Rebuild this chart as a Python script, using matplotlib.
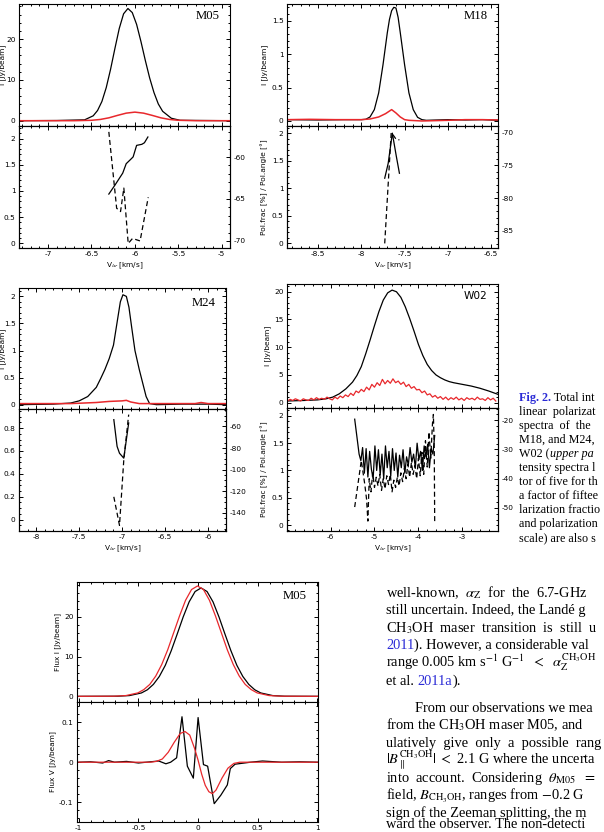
import matplotlib
matplotlib.use("Agg")
import matplotlib.pyplot as plt
from matplotlib.ticker import MultipleLocator, FuncFormatter

W, H = 604, 832

# ---- M05 (top left) ----
m05_v = [-7.33, -6.9, -6.7, -6.6, -6.58, -6.48, -6.43, -6.38, -6.33, -6.28, -6.23, -6.18, -6.13,
         -6.08, -6.03, -5.98, -5.93, -5.88, -5.83, -5.78, -5.73, -5.68, -5.58, -5.48, -4.9]
m05_I = [0.0, 0.05, 0.15, 0.2, 0.2, 1.2, 2.5, 4.7, 8.1, 12.6, 17.7, 22.6, 26.2,
         27.5, 26.5, 23.6, 19.4, 14.8, 10.5, 6.9, 4.1, 2.3, 0.6, 0.1, 0.0]
m05_pol_v = [-7.33, -6.7, -6.5, -6.4, -6.3, -6.2, -6.1, -6.0, -5.9, -5.8, -5.7, -5.6, -5.5, -5.3, -4.9]
m05_pol = [0.0, 0.0, 0.1, 0.3, 0.7, 1.3, 1.85, 2.1, 1.85, 1.3, 0.7, 0.3, 0.1, 0.0, 0.0]
m05_frac_v = [-6.30, -6.23, -6.14, -6.10, -6.05, -6.02, -5.98, -5.92, -5.89, -5.85]
m05_frac = [0.94, 1.11, 1.34, 1.52, 1.60, 1.65, 1.87, 1.89, 1.92, 2.03]
m05_ang_v = [-6.30, -6.21, -6.165, -6.127, -6.077, -6.027, -5.94, -5.846]
m05_ang = [-57.0, -66.1, -66.5, -63.7, -70.3, -69.7, -70.0, -64.8]

# ---- M18 (top right) ----
m18_v = [-8.86, -8.5, -8.2, -8.0, -7.95, -7.9, -7.85, -7.8, -7.75, -7.7, -7.675, -7.65, -7.625,
         -7.6, -7.575, -7.55, -7.5, -7.45, -7.4, -7.35, -7.3, -7.25, -7.0, -6.8, -6.6, -6.42]
m18_I = [0.02, 0.015, 0.02, 0.02, 0.025, 0.06, 0.17, 0.42, 0.84, 1.32, 1.52, 1.65, 1.70,
         1.69, 1.55, 1.32, 0.84, 0.42, 0.17, 0.055, 0.02, 0.01, 0.02, 0.015, 0.02, 0.01]
m18_pol_v = [-8.86, -8.6, -8.3, -8.0, -7.9, -7.8, -7.72, -7.65, -7.6, -7.55, -7.5, -7.45, -7.3, -7.0, -6.8, -6.6, -6.42]
m18_pol = [0.02, 0.025, 0.02, 0.02, 0.03, 0.06, 0.11, 0.17, 0.12, 0.06, 0.02, 0.01, 0.0, 0.01, 0.02, 0.02, 0.015]
m18_frac_v = [-7.73, -7.69, -7.642, -7.596, -7.56]
m18_frac = [1.18, 1.45, 2.0, 1.58, 1.27]
m18_ang_v = [-7.73, -7.655, -7.62, -7.595, -7.56]
m18_ang = [-86.9, -70.0, -70.6, -71.1, -71.1]

# ---- M24 (middle left) ----
m24_v = [-8.2, -7.8, -7.6, -7.5, -7.4, -7.3, -7.25, -7.2, -7.15, -7.1, -7.06, -7.02, -6.99, -6.95,
         -6.92, -6.89, -6.85, -6.8, -6.76, -6.72, -6.68, -6.6, -6.3, -6.0, -5.79]
m24_I = [0.0, 0.01, 0.03, 0.07, 0.15, 0.32, 0.48, 0.65, 0.85, 1.1, 1.5, 1.9, 2.03, 2.0,
         1.8, 1.45, 1.0, 0.65, 0.4, 0.15, 0.02, 0.0, 0.01, 0.01, 0.0]
m24_pol_v = [-8.2, -7.6, -7.3, -7.15, -7.0, -6.95, -6.9, -6.8, -6.5, -6.15, -6.08, -6.0, -5.79]
m24_pol = [0.02, 0.02, 0.04, 0.06, 0.07, 0.08, 0.05, 0.02, 0.02, 0.02, 0.04, 0.02, 0.02]
m24_frac_v = [-7.096, -7.058, -7.03, -6.98, -6.923]
m24_frac = [0.874, 0.64, 0.58, 0.537, 0.845]
m24_ang_v = [-7.096, -7.03, -6.98, -6.923]
m24_ang = [-125.1, -151.5, -91.0, -49.1]

# ---- W02 (middle right) ----
w02_v = [-6.99, -6.6, -6.3, -6.1, -5.95, -5.8, -5.65, -5.5, -5.4, -5.3, -5.2, -5.1, -5.0, -4.9,
         -4.8, -4.7, -4.6, -4.5, -4.4, -4.3, -4.2, -4.1, -4.0, -3.9, -3.8, -3.7, -3.6, -3.5,
         -3.4, -3.3, -3.2, -3.0, -2.8, -2.6, -2.4, -2.19]
w02_I = [0.3, 0.4, 0.5, 0.7, 1.0, 1.6, 2.5, 3.7, 4.9, 6.5, 8.8, 11.3, 13.9, 16.4,
         18.5, 19.8, 20.3, 20.0, 19.0, 17.3, 15.2, 12.9, 10.5, 8.5, 6.9, 5.8, 5.0, 4.5,
         4.1, 3.8, 3.6, 3.3, 3.0, 2.6, 2.1, 1.5]
w02_pol_v = [-6.98, -6.92, -6.86, -6.80, -6.74, -6.68, -6.62, -6.56, -6.50, -6.44,
             -6.38, -6.32, -6.26, -6.20, -6.14, -6.08, -6.02, -5.96, -5.90, -5.84,
             -5.78, -5.72, -5.66, -5.60, -5.54, -5.48, -5.42, -5.36, -5.30, -5.24,
             -5.18, -5.12, -5.06, -5.00, -4.94, -4.88, -4.82, -4.76, -4.70, -4.64,
             -4.58, -4.52, -4.46, -4.40, -4.34, -4.28, -4.22, -4.16, -4.10, -4.04,
             -3.98, -3.92, -3.86, -3.80, -3.74, -3.68, -3.62, -3.56, -3.50, -3.44,
             -3.38, -3.32, -3.26, -3.20, -3.14, -3.08, -3.02, -2.96, -2.90, -2.84,
             -2.78, -2.72, -2.66, -2.60, -2.54, -2.48, -2.42, -2.36, -2.30, -2.24]
w02_pol = [0.3, 0.6, 0.4, 0.7, 0.5, 0.3, 0.7, 0.5, 0.4, 0.8,
           0.5, 0.9, 0.6, 0.8, 0.6, 1.0, 0.7, 0.5, 1.0, 0.7,
           1.2, 0.9, 1.4, 1.1, 1.7, 1.3, 2.1, 1.8, 2.4, 2.0,
           2.8, 2.3, 3.3, 2.8, 3.6, 3.1, 4.2, 3.4, 4.0, 3.5,
           4.3, 3.6, 3.9, 3.3, 3.7, 2.9, 3.3, 2.6, 2.9, 2.3,
           2.4, 1.8, 2.1, 1.4, 1.6, 1.0, 1.3, 0.8, 1.1, 0.6,
           1.0, 0.5, 0.9, 0.6, 1.0, 0.5, 0.8, 0.4, 0.9, 0.6,
           0.8, 0.5, 1.0, 0.6, 0.7, 0.4, 0.9, 0.5, 0.8, 0.3]
w02_frac_v = [-5.45, -5.40, -5.35, -5.31, -5.27, -5.23, -5.19, -5.15, -5.11, -5.07, -5.03, -4.99,
              -4.95, -4.91, -4.87, -4.83, -4.79, -4.75, -4.71, -4.67, -4.63, -4.59, -4.55, -4.51,
              -4.47, -4.43, -4.39, -4.35, -4.31, -4.27, -4.23, -4.19, -4.15, -4.11, -4.07, -4.03,
              -3.99, -3.95, -3.91, -3.87, -3.83, -3.79, -3.75, -3.71, -3.67, -3.63]
w02_frac = [1.94, 1.62, 1.30, 1.18, 1.42, 0.95, 1.40, 0.88, 1.35, 1.02, 0.85, 1.45,
            1.00, 1.38, 0.92, 1.30, 0.85, 1.45, 1.05, 1.35, 0.90, 1.40, 1.00, 1.32,
            0.88, 1.28, 1.05, 1.38, 0.95, 1.25, 1.10, 1.42, 1.15, 1.30, 1.05, 1.50,
            1.20, 1.35, 1.00, 1.45, 1.25, 1.48, 1.05, 1.40, 1.30, 1.64]
w02_ang_v = [-5.45, -5.30, -5.22, -5.18, -5.15, -5.12, -5.08, -5.04, -5.00, -4.96, -4.92, -4.88,
             -4.84, -4.80, -4.76, -4.72, -4.68, -4.64, -4.60, -4.56, -4.52, -4.48, -4.44, -4.40,
             -4.36, -4.32, -4.28, -4.24, -4.20, -4.16, -4.12, -4.08, -4.04, -4.00, -3.96, -3.92,
             -3.88, -3.84, -3.80, -3.76, -3.72, -3.68, -3.66, -3.64, -3.63]
w02_ang = [-49.7, -33.8, -42.0, -47.0, -54.5, -40.0, -44.5, -38.0, -43.0, -39.5, -42.5, -38.5,
           -44.0, -40.0, -43.5, -39.0, -42.0, -38.5, -44.5, -40.5, -43.0, -39.5, -42.5, -38.0,
           -41.0, -36.5, -40.0, -35.0, -39.5, -34.5, -38.5, -35.5, -40.0, -33.0, -39.0, -31.0,
           -38.5, -27.0, -36.0, -24.0, -33.0, -21.0, -18.0, -30.0, -55.5]

# ---- M05 Zeeman fit (bottom) ----
zi_v = [-1.0, -0.675, -0.575, -0.475, -0.425, -0.375, -0.325, -0.275, -0.225, -0.175, -0.125, -0.075, -0.025,
        0.025, 0.075, 0.125, 0.175, 0.225, 0.275, 0.325, 0.375, 0.425, 0.475, 0.525, 0.625, 0.725, 1.0]
zi_I = [0.0, 0.03, 0.19, 0.85, 1.65, 3.0, 5.0, 7.8, 11.5, 15.7, 20.0, 23.8, 26.4,
        27.3, 26.4, 23.8, 20.0, 15.7, 11.5, 7.8, 5.0, 3.0, 1.65, 0.85, 0.19, 0.03, 0.0]
zi_fit_v = [-1.0, -0.705, -0.605, -0.505, -0.455, -0.405, -0.355, -0.305, -0.255, -0.205, -0.155, -0.105, -0.055,
            -0.005, 0.045, 0.095, 0.145, 0.195, 0.245, 0.295, 0.345, 0.395, 0.445, 0.495, 0.595, 0.695, 1.0]
zi_fit = [0.0, 0.03, 0.19, 0.86, 1.7, 3.0, 5.1, 8.0, 11.7, 16.0, 20.3, 24.2, 26.9,
          27.8, 26.9, 24.2, 20.3, 16.0, 11.7, 8.0, 5.1, 3.0, 1.7, 0.86, 0.19, 0.03, 0.0]
zv_v = [-1.0, -0.9, -0.8, -0.75, -0.7, -0.6, -0.5, -0.4, -0.33, -0.27, -0.23, -0.18, -0.135, -0.09,
        -0.04, 0.0, 0.045, 0.08, 0.135, 0.19, 0.245, 0.27, 0.31, 0.44, 0.54, 0.7, 0.85, 1.0]
zv_V = [0.0, 0.001, -0.002, 0.004, 0.0, 0.002, -0.002, 0.001, 0.003, -0.004, 0.0, 0.011, 0.114, -0.01,
        -0.04, 0.112, -0.006, -0.01, -0.104, -0.083, -0.057, -0.016, -0.005, 0.0, 0.003, 0.0, 0.001, 0.0]
zv_fit_v = [-1.0, -0.4, -0.35, -0.3, -0.25, -0.2, -0.15, -0.11, -0.07, -0.03, 0.0, 0.03, 0.06,
            0.09, 0.12, 0.15, 0.2, 0.25, 0.3, 0.35, 1.0]
zv_fit = [0.0, 0.0, 0.002, 0.008, 0.025, 0.05, 0.072, 0.077, 0.068, 0.035, 0.005, -0.03, -0.058,
          -0.074, -0.079, -0.07, -0.04, -0.015, -0.003, 0.0, 0.0]

RED = '#e8282c'
BLUE = '#2b2bd6'
LBL_I = 'I [Jy/beam]'
LBL_P = 'Pol.frac [%] / Pol.angle [°]'
LBL_V = r'V$_{\mathsf{lsr}}$ [km/s]'

plt.rcParams['axes.unicode_minus'] = False
plt.rcParams['mathtext.fontset'] = 'stix'
plt.rcParams['font.family'] = 'DejaVu Sans'

fig = plt.figure(figsize=(W / 100, H / 100), dpi=100)

fmt = FuncFormatter(lambda x, p: '0' if abs(x) < 1e-9 else f'{x:g}')


def px_axes(left, top, right, bottom):
    return fig.add_axes([left / W, 1 - bottom / H, (right - left) / W, (bottom - top) / H])


def ticks(ax, axis, major, minor, side_kw):
    a = ax.xaxis if axis == 'x' else ax.yaxis
    a.set_major_locator(MultipleLocator(major))
    a.set_minor_locator(MultipleLocator(minor))
    a.set_major_formatter(fmt)
    ax.tick_params(axis=axis, which='both', direction='in', width=0.7, labelsize=5.3, pad=2.5, **side_kw)
    ax.tick_params(axis=axis, which='major', length=3)
    ax.tick_params(axis=axis, which='minor', length=1.6)


def frame(ax):
    for s in ax.spines.values():
        s.set_linewidth(0.8)


def panel(box, xlim, xt, ylim_i, yt_i, ylim_f, yt_f, ylim_a, yt_a, name, name_pos, name_font, left_col):
    left, top, split, right, bottom = box
    up = px_axes(left, top, right, split)
    lo = px_axes(left, split, right, bottom)
    tw = lo.twinx()
    for ax in (up, lo, tw):
        ax.set_xlim(*xlim)
        frame(ax)
    up.set_ylim(*ylim_i)
    lo.set_ylim(*ylim_f)
    tw.set_ylim(*ylim_a)
    ticks(up, 'x', xt[0], xt[1], dict(top=True, bottom=True, labelbottom=False))
    ticks(up, 'y', yt_i[0], yt_i[1], dict(left=True, right=True))
    ticks(lo, 'x', xt[0], xt[1], dict(top=True, bottom=True))
    ticks(lo, 'y', yt_f[0], yt_f[1], dict(left=True, right=False))
    ticks(tw, 'y', yt_a[0], yt_a[1], dict(left=False, right=True, labelright=True))
    lo.set_xlabel(LBL_V, fontsize=5.3, labelpad=2)
    up.set_ylabel(LBL_I, fontsize=5.3, labelpad=2.5)
    if left_col:
        # page is cropped on the left: keep the label just inside the edge
        up.yaxis.set_label_coords((6.3 - left) / (right - left), 0.5)
    else:
        lo.set_ylabel(LBL_P, fontsize=5.3, labelpad=2.5)
    up.text(name_pos[0], name_pos[1], name, transform=up.transAxes, ha='right', va='center', **name_font)
    return up, lo, tw


serif_lbl = dict(family='Liberation Serif', fontsize=9.2)
sans_lbl = dict(family='DejaVu Sans', fontsize=7.6)

# M05
up, lo, tw = panel((19, 4, 126, 230, 248), (-7.335, -4.904), (0.5, 0.1),
                   (-1.3, 28.6), (10, 2), (-0.09, 2.24), (0.5, 0.1), (-70.84, -56.3), (5, 1),
                   'M05', (0.953, 0.90), serif_lbl, True)
up.plot(m05_v, m05_I, color='black', lw=0.9)
up.plot(m05_pol_v, m05_pol, color=RED, lw=1.1)
lo.plot(m05_frac_v, m05_frac, color='black', lw=0.9)
tw.plot(m05_ang_v, m05_ang, color='black', lw=0.9, dashes=(4, 2.5))

# M18
up, lo, tw = panel((287, 4, 126, 498, 248), (-8.86, -6.42), (0.5, 0.1),
                   (-0.075, 1.75), (0.5, 0.1), (-0.09, 2.13), (0.5, 0.1), (-87.6, -69.0), (5, 1),
                   'M18', (0.95, 0.90), serif_lbl, False)
up.plot(m18_v, m18_I, color='black', lw=0.9)
up.plot(m18_pol_v, m18_pol, color=RED, lw=1.1)
lo.plot(m18_frac_v, m18_frac, color='black', lw=0.9)
tw.plot(m18_ang_v, m18_ang, color='black', lw=0.9, dashes=(4, 2.5))

# M24
up, lo, tw = panel((19, 288, 409, 226, 531), (-8.2, -5.79), (0.5, 0.1),
                   (-0.08, 2.155), (0.5, 0.1), (-0.1, 0.967), (0.2, 0.05), (-156.7, -43.9), (20, 5),
                   'M24', (0.95, 0.88), serif_lbl, True)
up.plot(m24_v, m24_I, color='black', lw=0.9)
up.plot(m24_pol_v, m24_pol, color=RED, lw=1.1)
lo.plot(m24_frac_v, m24_frac, color='black', lw=0.9)
tw.plot(m24_ang_v, m24_ang, color='black', lw=0.9, dashes=(4, 2.5))

# W02
up, lo, tw = panel((287, 284, 408, 498, 531), (-6.99, -2.19), (1, 0.2),
                   (-0.96, 21.4), (5, 1), (-0.11, 2.145), (0.5, 0.1), (-57.9, -15.8), (10, 2),
                   'W02', (0.95, 0.90), sans_lbl, False)
up.plot(w02_v, w02_I, color='black', lw=0.9)
up.plot(w02_pol_v, w02_pol, color=RED, lw=0.9)
lo.plot(w02_frac_v, w02_frac, color='black', lw=0.9)
tw.plot(w02_ang_v, w02_ang, color='black', lw=0.9, dashes=(4, 2.5))

# M05 Zeeman fit
zu = px_axes(77, 582, 318, 702)
zl = px_axes(77, 702, 318, 822)
for ax in (zu, zl):
    ax.set_xlim(-1.015, 1.005)
    frame(ax)
zu.set_ylim(-1.43, 28.8)
zl.set_ylim(-0.15, 0.151)
ticks(zu, 'x', 0.5, 0.1, dict(top=True, bottom=True, labelbottom=False))
ticks(zu, 'y', 10, 2, dict(left=True, right=True))
ticks(zl, 'x', 0.5, 0.1, dict(top=True, bottom=True))
ticks(zl, 'y', 0.1, 0.02, dict(left=True, right=True))
zu.set_ylabel('Flux I [Jy/beam]', fontsize=5.3, labelpad=2.5)
zl.set_ylabel('Flux V [Jy/beam]', fontsize=5.3, labelpad=2.5)
zu.plot(zi_v, zi_I, color='black', lw=0.9)
zu.plot(zi_fit_v, zi_fit, color=RED, lw=0.9)
zl.plot(zv_v, zv_V, color='black', lw=0.9)
zl.plot(zv_fit_v, zv_fit, color=RED, lw=0.9)
zu.text(0.955, 0.885, 'M05', transform=zu.transAxes, ha='right', va='center', **serif_lbl)

# ---- page text ----
renderer = fig.canvas.get_renderer()


def put(x, y, pieces, size):
    # pieces: list of (text, extra kwargs); x, y in pixels (y = baseline)
    for s, kw in pieces:
        t = fig.text(x / W, 1 - y / H, s, fontsize=size, family='Liberation Serif',
                     ha='left', va='baseline', **kw)
        x = t.get_window_extent(renderer).x1


caption = [
    [('Fig. 2.', dict(color=BLUE, weight='bold')), (' Total int', {})],
    [('linear  polarizat', {})],
    [('spectra  of  the', {})],
    [('M18, and M24,', {})],
    [('W02 (', {}), ('upper pa', dict(style='italic'))],
    [('tensity spectra l', {})],
    [('tor of five for th', {})],
    [('a factor of fiftee', {})],
    [('larization fractio', {})],
    [('and polarization', {})],
    [('scale) are also s', {})],
]
for i, line in enumerate(caption):
    put(519, 401 + 14 * i, line, 8.7)

body = [
    (386, 597, [(r'well-known,  $\alpha_{\rm Z}$  for  the  6.7-GHz', {})]),
    (386, 614, [('still uncertain. Indeed, the Landé g', {})]),
    (386, 632, [(r'CH$_3$OH  maser  transition  is  still  u', {})]),
    (386, 649, [('2011', dict(color=BLUE)), ('). However, a considerable val', {})]),
    (386, 667, [(r'range 0.005 km s$^{-1}$ G$^{-1}$  $<$  $\alpha_{\rm Z}^{\rm CH_3OH}$', {})]),
    (386, 685, [('et al. ', {}), ('2011a', dict(color=BLUE)), (').', {})]),
    (415, 712, [('From our observations we mea', {})]),
    (386, 729, [(r'from the CH$_3$OH maser M05, and', {})]),
    (386, 747, [('ulatively  give  only  a  possible  rang', {})]),
    (386, 764, [(r'$|B_{\parallel}^{\rm CH_3OH}|$ $<$ 2.1 G where the uncerta', {})]),
    (386, 782, [(r'into  account.  Considering  $\theta_{\rm M05}$  $=$', {})]),
    (386, 800, [(r'field, $B_{\rm CH_3OH}$, ranges from $-$0.2 G', {})]),
    (386, 817, [('sign of the Zeeman splitting, the m', {})]),
    (386, 828.5, [('ward the observer. The non-detecti', {})]),
]
for x, y, line in body:
    put(x, y, line, 10.4)

fig.savefig('out.png', dpi=100)
